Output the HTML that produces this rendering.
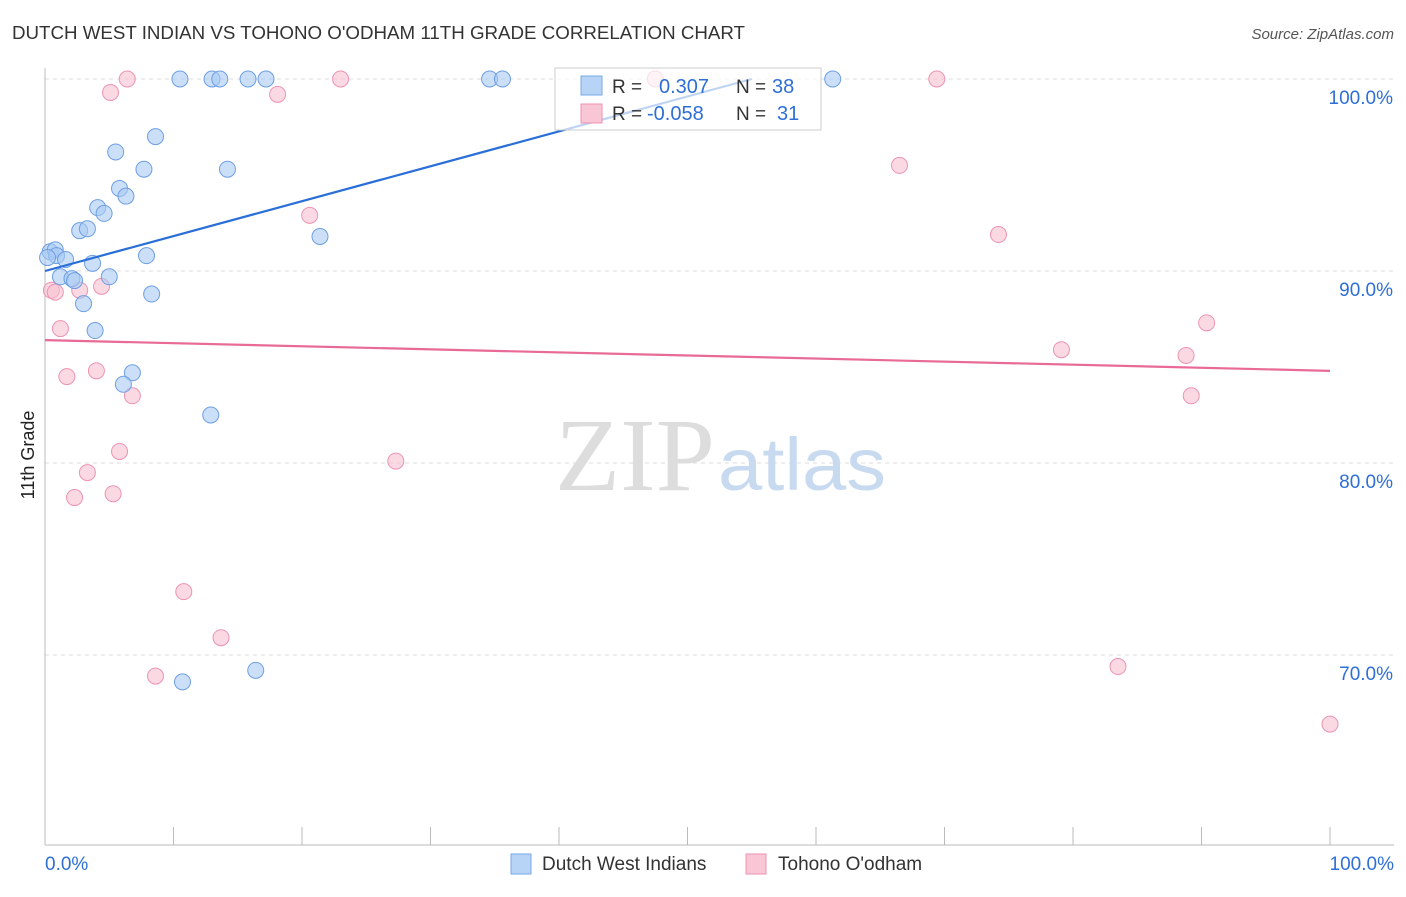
<!DOCTYPE html>
<html><head><meta charset="utf-8"><style>
body{margin:0;background:#fff;font-family:"Liberation Sans",sans-serif;}
</style></head><body>
<svg width="1406" height="892" xmlns="http://www.w3.org/2000/svg">
<text x="12" y="39" font-size="18" fill="#333" textLength="733" lengthAdjust="spacingAndGlyphs">DUTCH WEST INDIAN VS TOHONO O'ODHAM 11TH GRADE CORRELATION CHART</text>
<text x="1394" y="39" font-size="15" fill="#555" font-style="italic" text-anchor="end">Source: ZipAtlas.com</text>
<g id="grid"></g>
<text x="715" y="490" font-size="104" fill="#ddd" font-family="Liberation Serif,serif" text-anchor="end" textLength="160" lengthAdjust="spacingAndGlyphs">ZIP</text>
<text x="718" y="490" font-size="74" fill="#c8daf0" textLength="168" lengthAdjust="spacingAndGlyphs">atlas</text>
<text x="34" y="455" font-size="18" fill="#222" text-anchor="middle" transform="rotate(-90 34 455)">11th Grade</text>
<g id="marks"></g>
<g>
<rect x="555" y="68" width="266" height="62" fill="#fff" fill-opacity="0.7" stroke="#ccc"/>
<rect x="581" y="76" width="21" height="19" fill="#b7d3f6" stroke="#7aa8e8"/>
<rect x="581" y="104" width="21" height="19" fill="#f9c6d6" stroke="#ee91b0"/>
<text x="612" y="93" font-size="19" fill="#333">R =</text>
<text x="659" y="93" font-size="20" fill="#2e6fd6">0.307</text>
<text x="736" y="93" font-size="19" fill="#333">N =</text>
<text x="772" y="93" font-size="20" fill="#2e6fd6">38</text>
<text x="612" y="120" font-size="19" fill="#333">R =</text>
<text x="647" y="120" font-size="20" fill="#2e6fd6">-0.058</text>
<text x="736" y="120" font-size="19" fill="#333">N =</text>
<text x="777" y="120" font-size="20" fill="#2e6fd6">31</text>
</g>
<g>
<rect x="511" y="854" width="20" height="20" fill="#b7d3f6" stroke="#7aa8e8"/>
<text x="542" y="870" font-size="19" fill="#333">Dutch West Indians</text>
<rect x="746" y="854" width="20" height="20" fill="#f9c6d6" stroke="#ee91b0"/>
<text x="778" y="870" font-size="19" fill="#333">Tohono O'odham</text>
</g>
</svg>
<script>
const xTicks=[0,10,20,30,40,50,60,70,80,90,100];
const yTicks=[100,90,80,70];
const blueX=[10.5,13,13.6,15.8,17.2,34.6,35.6,61.3,8.6,5.5,7.7,14.2,5.8,6.3,4.1,4.6,2.7,3.3,21.4,0.4,0.8,0.9,1.6,3.7,7.9,1.2,2.1,2.3,5,8.3,3,3.9,6.8,6.1,12.9,10.7,16.4,0.2];
const blueY=[100,100,100,100,100,100,100,100,97,96.2,95.3,95.3,94.3,93.9,93.3,93,92.1,92.2,91.8,91,91.1,90.8,90.6,90.4,90.8,89.7,89.6,89.5,89.7,88.8,88.3,86.9,84.7,84.1,82.5,68.6,69.2,90.7];
const pinkX=[6.4,23,47.5,69.4,5.1,18.1,66.5,20.6,74.2,0.5,0.8,2.7,4.4,1.2,79.1,90.4,88.8,4,1.7,6.8,89.2,5.8,27.3,3.3,5.3,2.3,10.8,13.7,8.6,83.5,100];
const pinkY=[100,100,100,100,99.3,99.2,95.5,92.9,91.9,89,88.9,89,89.2,87,85.9,87.3,85.6,84.8,84.5,83.5,83.5,80.6,80.1,79.5,78.4,78.2,73.3,70.9,68.9,69.4,66.4];
const blueFit=[0,90,55,100];
const pinkFit=[0,86.4,100,84.8];
const NS="http://www.w3.org/2000/svg";
const X=v=>45+v*12.85, Y=v=>79+(100-v)*19.2;
const grid=document.getElementById('grid'), marks=document.getElementById('marks');
function mk(tag,at,parent){const e=document.createElementNS(NS,tag);for(const k in at)e.setAttribute(k,at[k]);parent.appendChild(e);return e;}
yTicks.forEach(t=>{
 const l=mk('line',{x1:45,x2:1394,y1:Y(t),y2:Y(t),stroke:'#ddd','stroke-dasharray':'4 4'},grid);
 
 
 const tx=mk('text',{x:1393,y:Y(t)+25,'font-size':19,fill:'#2e6fd6','text-anchor':'end'},grid);tx.textContent=t.toFixed(1)+'%';
 
 
});
const ax=mk('line',{x1:45,x2:45,y1:68,y2:845,stroke:'#bbb'},grid);


const bx=mk('line',{x1:45,x2:1394,y1:845,y2:845,stroke:'#bbb'},grid);


xTicks.forEach(t=>{const l=mk('line',{x1:X(t),x2:X(t),y1:827,y2:845,stroke:'#bbb'},grid);
 
 });
[[0,'start',45],[100,'end',1394]].forEach(([t,a,px])=>{const tx=mk('text',{x:px,y:870,'font-size':19,fill:'#2e6fd6','text-anchor':a},grid);tx.textContent=t.toFixed(1)+'%';
 
 });
function pts(xs,ys,fill,stroke,name){xs.forEach((x,i)=>{const c=mk('circle',{cx:X(x),cy:Y(ys[i]),r:8,fill,stroke,'stroke-width':1,'fill-opacity':0.6},marks);
 
 });}
pts(pinkX,pinkY,'#f7bfd1','#ec94b2','point-tohono');
pts(blueX,blueY,'#a9c9f3','#6d9fe3','point-dutch-west-indian');
const bl=mk('line',{x1:X(blueFit[0]),y1:Y(blueFit[1]),x2:X(blueFit[2]),y2:Y(blueFit[3]),stroke:'#2a6fd8','stroke-width':2.2},marks);


const pl=mk('line',{x1:X(pinkFit[0]),y1:Y(pinkFit[1]),x2:X(pinkFit[2]),y2:Y(pinkFit[3]),stroke:'#e86a96','stroke-width':2.2},marks);


</script>
</body></html>
